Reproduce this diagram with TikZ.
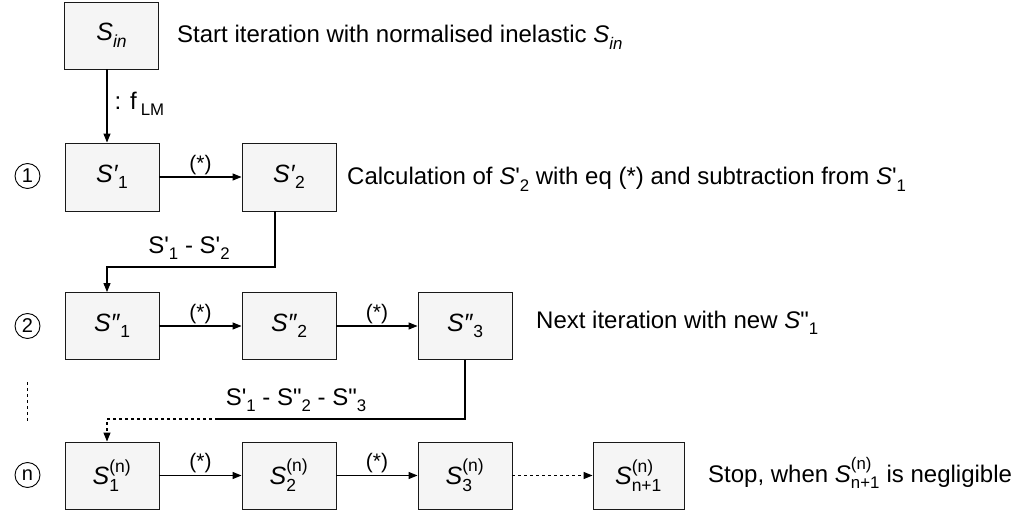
\documentclass[tikz,border=0pt]{standalone}
\usepackage{amsmath}
\usepackage{fontspec}
\setmainfont{Liberation Sans}
\usetikzlibrary{arrows.meta,calc}
\newcommand\Sit{\textit{S}}
\newcommand\sbs[1]{\raisebox{-0.26em}{\fontsize{0.7em}{1em}\selectfont #1}}
\newcommand\sps[2]{$^{\text{#1}}_{\text{#2}}$}
\newcommand\ap{\textquotesingle}
\newcommand\dap{\textquotedbl}
\begin{document}
\begin{tikzpicture}[x=1pt,y=-1pt,
 box/.style={draw=black!90, fill=gray!8, line width=0.9pt, minimum width=94pt, minimum height=67pt, inner sep=0pt, font=\fontsize{25}{30}\selectfont},
 arr/.style={line width=1.1pt, -{Triangle[length=9pt,width=7pt]}},
 lbl/.style={font=\fontsize{24}{29}\selectfont, inner sep=0pt},
 star/.style={font=\fontsize{21}{25}\selectfont, inner sep=0pt},
 num/.style={circle, draw, line width=0.9pt, minimum size=25pt, inner sep=0pt, font=\fontsize{20}{24}\selectfont},
 dots/.style={dash pattern=on 3pt off 3pt}]
\useasboundingbox (0,0) rectangle (1035,518);

% boxes
\node[box] (sin) at (111.5,35.5) {\Sit\sbs{\textit{in}}};
\node[box, minimum height=68pt] (s11) at (112,177) {\textit{S′}\sbs{1}};
\node[box, minimum height=68pt] (s12) at (289,177) {\textit{S′}\sbs{2}};
\node[box] (s21) at (112,326) {\textit{S″}\sbs{1}};
\node[box] (s22) at (289,326) {\textit{S″}\sbs{2}};
\node[box] (s23) at (465,326) {\textit{S″}\sbs{3}};
\node[box] (sn1) at (112,475.5) {\Sit\sps{(n)}{1}};
\node[box] (sn2) at (289,475.5) {\Sit\sps{(n)}{2}};
\node[box] (sn3) at (465,475.5) {\Sit\sps{(n)}{3}};
\node[box, minimum width=91pt] (sn4) at (638.5,475.5) {\Sit\sps{(n)}{n+1}};

% step numbers
\node[num] (c1) at (27.5,176) {1};
\node[num] (c2) at (27.5,326) {2};
\node[num] (cn) at (27.5,475) {n};
\draw[dots, line width=1pt] ([yshift=-43.5pt]c2.south) -- ([yshift=39.5pt]cn.north);

% explanatory texts
\node[lbl, anchor=base west] (t0) at (177,43) {Start iteration with normalised inelastic \Sit\sbs{\textit{in}}};
\node[lbl, anchor=base west] (t1) at (347,185) {Calculation of \Sit\ap\sbs{2} with eq (*) and subtraction from \Sit\ap\sbs{1}};
\node[lbl, anchor=base west] (t2) at (536,328) {Next iteration with new \Sit\dap\sbs{1}};
\node[lbl, anchor=base west] (t3) at (708,482) {Stop, when \Sit\sps{(n)}{n+1} is negligible};

% arrows
\draw[arr] ([xshift=-4.5pt]sin.south) -- ([xshift=-5pt]s11.north)
  node[midway, lbl, anchor=west, xshift=7pt, yshift=2pt] (flm) {: f\,\sbs{LM}};

\draw[arr] (s11) -- (s12) node[midway, star, above=2pt] (a1) {(*)};

\coordinate (k1) at (107,267);
\draw[arr] ([xshift=-14pt]s12.south) |- (k1) -- ([xshift=-5pt]s21.north);
\node[lbl] (d1) at (189,248) {S\ap\sbs{1} - S\ap\sbs{2}};

\draw[arr] (s21) -- (s22) node[midway, star, above=2pt] (a2) {(*)};
\draw[arr] (s22) -- (s23) node[midway, star, above=2pt] (a3) {(*)};

\coordinate (k2) at (218,419);
\coordinate (k3) at (107,419);
\draw[line width=1.1pt] (s23.south) |- (k2);
\draw[arr, dots] (k2) -- (k3) -- ([xshift=-5pt]sn1.north);
\node[lbl] (d2) at (296,400) {S\ap\sbs{1} - S\dap\sbs{2} - S\dap\sbs{3}};

\draw[arr] (sn1) -- (sn2) node[midway, star, above=2pt] (a4) {(*)};
\draw[arr] (sn2) -- (sn3) node[midway, star, above=2pt] (a5) {(*)};
\draw[arr, dots] (sn3) -- (sn4);
\end{tikzpicture}
\end{document}
